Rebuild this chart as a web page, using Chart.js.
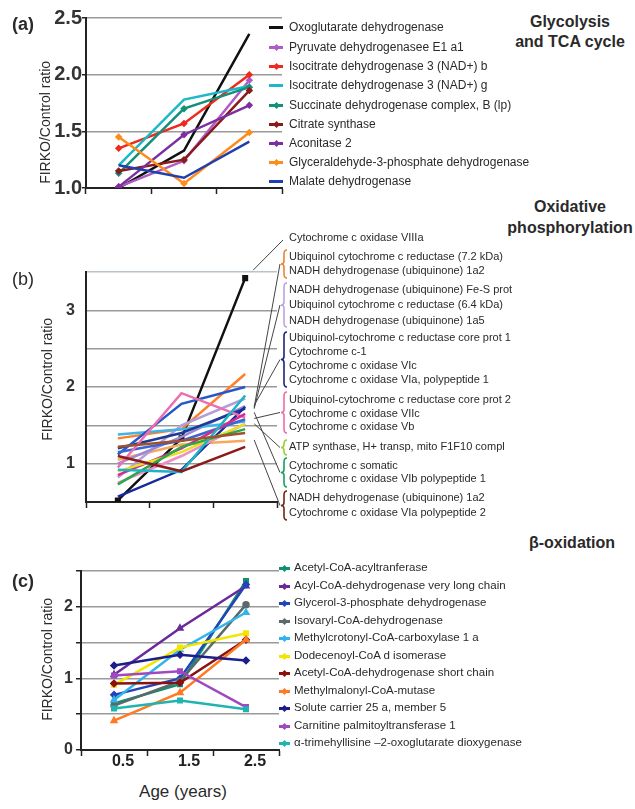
<!DOCTYPE html>
<html>
<head>
<meta charset="utf-8">
<script src="https://cdn.jsdelivr.net/npm/chart.js@4.4.1/dist/chart.umd.min.js"></script>
<style>
  body { margin: 0; background: #fff; }
  #page { position: relative; width: 635px; height: 809px; overflow: hidden; font-family: "Liberation Sans", Arial, sans-serif; color: #2a2a2a; }
  canvas { position: absolute; left: 0; }
  .t { position: absolute; white-space: nowrap; }
</style>
</head>
<body>
<div id="page">
  <canvas id="chartA" width="290" height="200" style="top:0px"></canvas>
  <canvas id="chartB" width="300" height="295" style="top:230px"></canvas>
  <canvas id="chartC" width="290" height="240" style="top:540px"></canvas>
</div>
<script>
// ---------------- data ----------------
const ages = ['0.5', '1.5', '2.5'];

// (a) Glycolysis and TCA cycle
const tcaNames = [
  'Oxoglutarate dehydrogenase',
  'Pyruvate dehydrogenasee E1 a1',
  'Isocitrate dehydrogenase 3 (NAD+) b',
  'Isocitrate dehydrogenase 3 (NAD+) g',
  'Succinate dehydrogenase complex, B (lp)',
  'Citrate synthase',
  'Aconitase 2',
  'Glyceraldehyde-3-phosphate dehydrogenase',
  'Malate dehydrogenase'
];
const tcaValues = [
  [1.00, 1.33, 2.36],
  [1.01, 1.24, 1.95],
  [1.35, 1.57, 2.00],
  [1.20, 1.78, 1.90],
  [1.13, 1.70, 1.89],
  [1.15, 1.25, 1.86],
  [1.01, 1.47, 1.73],
  [1.45, 1.04, 1.49],
  [1.20, 1.09, 1.41]
];
const tcaColors = ['#111111', '#b05cc8', '#ee2a1e', '#1cb8c8', '#14907a', '#8b1a1a', '#7b2fa0', '#ff8c1a', '#2040b0'];
const tcaMarks = [false, true, true, false, true, true, true, true, false];

// (b) Oxidative phosphorylation
const oxNames = [
  'Cytochrome c oxidase VIIIa',
  'Ubiquinol cytochrome c reductase (7.2 kDa)',
  'NADH dehydrogenase (ubiquinone) 1a2',
  'NADH dehydrogenase (ubiquinone) Fe-S prot',
  'Ubiquinol cytochrome c reductase (6.4 kDa)',
  'NADH dehydrogenase (ubiquinone) 1a5',
  'Ubiquinol-cytochrome c reductase core prot 1',
  'Cytochrome c-1',
  'Cytochrome c oxidase VIc',
  'Cytochrome c oxidase VIa, polypeptide 1',
  'Ubiquinol-cytochrome c reductase core prot 2',
  'Cytochrome c oxidase VIIc',
  'Cytochrome c oxidase Vb',
  'ATP synthase, H+ transp, mito F1F10 compl',
  'Cytochrome c somatic',
  'Cytochrome c oxidase VIb polypeptide 1',
  'NADH dehydrogenase (ubiquinone) 1a2',
  'Cytochrome c oxidase VIa polypeptide 2'
];
const oxValues = [
  [0.52, 1.33, 3.42],
  [1.33, 1.45, 2.17],
  [1.05, 1.25, 1.30],
  [0.82, 1.50, 1.85],
  [1.00, 1.35, 1.75],
  [1.38, 1.45, 1.55],
  [1.20, 1.40, 1.72],
  [1.12, 1.78, 2.00],
  [0.57, 0.92, 1.74],
  [1.15, 1.30, 1.58],
  [0.95, 1.92, 1.60],
  [0.85, 1.20, 1.65],
  [0.75, 1.10, 1.52],
  [0.90, 1.15, 1.52],
  [0.73, 1.22, 1.45],
  [0.92, 0.89, 1.89],
  [1.10, 0.90, 1.22],
  [1.22, 1.30, 1.40]
];
const oxColors = ['#111111', '#ff7f27', '#f7a860', '#b39ddb', '#9b88d8', '#40b4e8', '#1f3a93', '#2258cc', '#1a2a9e', '#3a66d4',
  '#ee6fb0', '#d0308c', '#f08cc8', '#e8e020', '#2aa84a', '#1cb4c4', '#8b1a1a', '#a0522d'];

// (c) beta-oxidation
const betaNames = [
  'Acetyl-CoA-acyltranferase',
  'Acyl-CoA-dehydrogenase very long chain',
  'Glycerol-3-phosphate dehydrogenase',
  'Isovaryl-CoA-dehydrogenase',
  'Methylcrotonyl-CoA-carboxylase 1 a',
  'Dodecenoyl-CoA d isomerase',
  'Acetyl-CoA-dehydrogenase short chain',
  'Methylmalonyl-CoA-mutase',
  'Solute carrier 25 a, member 5',
  'Carnitine palmitoyltransferase 1',
  '\u03b1-trimehyllisine \u20132-oxoglutarate dioxygenase'
];
const betaValues = [
  [0.65, 0.92, 2.36],
  [1.05, 1.70, 2.29],
  [0.77, 1.00, 2.31],
  [0.62, 0.96, 2.03],
  [0.70, 1.40, 1.92],
  [0.91, 1.43, 1.63],
  [0.93, 0.94, 1.54],
  [0.41, 0.80, 1.54],
  [1.18, 1.33, 1.25],
  [1.04, 1.10, 0.60],
  [0.58, 0.69, 0.57]
];
const betaColors = ['#119070', '#6a2a9a', '#2244bb', '#5a6a6a', '#30b4ea', '#f2e600', '#8b1010', '#ff7a22', '#1c1f8a', '#a048c0', '#20b4b0'];
const betaPoints = ['rect', 'triangle', 'rectRot', 'circle', 'triangle', 'rect', 'rectRot', 'triangle', 'rectRot', 'rect', 'rect'];

// ---------------- layout (panel b legend / brackets) ----------------
const oxLabelY = [238, 257, 271, 290, 305, 321, 338, 352, 366, 380, 400, 414, 427, 447, 466, 479, 498, 513];
const oxGroups = [
  { series: [1, 2], color: '#f08030', top: 250, bottom: 278 },
  { series: [3, 4, 5], color: '#b8a4e0', top: 283, bottom: 327 },
  { series: [6, 7, 8, 9], color: '#1a237e', top: 332, bottom: 387 },
  { series: [10, 11, 12], color: '#f06aa8', top: 392, bottom: 433 },
  { series: [13], color: '#9acd32', top: 440, bottom: 455 },
  { series: [14, 15], color: '#14a060', top: 458, bottom: 487 },
  { series: [16, 17], color: '#6b2a10', top: 491, bottom: 520 }
];

Chart.defaults.font.family = '"Liberation Sans", Arial, sans-serif';
Chart.defaults.color = '#2a2a2a';

const page = document.getElementById('page');

function addText(txt, x, yc, size, extra) {
  const d = document.createElement('div');
  d.className = 't';
  d.textContent = txt;
  d.style.left = x + 'px';
  d.style.top = (yc - size * 0.6) + 'px';
  d.style.fontSize = size + 'px';
  d.style.lineHeight = (size * 1.2) + 'px';
  if (extra) Object.assign(d.style, extra);
  page.appendChild(d);
  return d;
}

function addCentered(txt, cx, yc, size, extra) {
  return addText(txt, cx - 100, yc, size, Object.assign({ width: '200px', textAlign: 'center' }, extra || {}));
}

function addYTitle(cx, cy) {
  const d = addText('FIRKO/Control ratio', cx - 100, cy, 14, { width: '200px', textAlign: 'center', transform: 'rotate(-90deg)' });
  return d;
}

function addMarker(x, yc, w, color, withPoint) {
  const l = document.createElement('div');
  l.style.cssText = `position:absolute;left:${x}px;top:${yc - 1.5}px;width:${w}px;height:3px;background:${color};`;
  page.appendChild(l);
  if (withPoint) {
    const p = document.createElement('div');
    p.style.cssText = `position:absolute;left:${x + w / 2 - 2.5}px;top:${yc - 2.5}px;width:5px;height:5px;background:${color};transform:rotate(45deg);`;
    page.appendChild(p);
  }
}

function fixedAxis(size, dim) {
  return function (scale) { scale[dim] = size; };
}

function xAxis(height, showLabels) {
  return {
    type: 'category',
    offset: true,
    afterFit: fixedAxis(height, 'height'),
    border: { color: '#222', width: 2 },
    grid: { offset: true, drawOnChartArea: false, drawTicks: true, tickLength: 6, tickColor: '#222', tickWidth: 1.5 },
    ticks: {
      display: showLabels,
      padding: -4,
      labelOffset: 9,
      maxRotation: 0,
      autoSkip: false,
      color: '#222',
      font: { size: 16, weight: 'bold' }
    }
  };
}

function lineSets(values, colors, styleFn) {
  return values.map((v, i) => Object.assign({
    label: 's' + i,
    data: v,
    borderColor: colors[i],
    backgroundColor: colors[i],
    borderWidth: 2.5,
    tension: 0,
    pointRadius: 0
  }, styleFn ? styleFn(i) : {}));
}

const common = {
  responsive: false,
  animation: false,
  events: [],
  plugins: { legend: { display: false }, tooltip: { enabled: false } }
};

// ---------------- (a) ----------------
new Chart(document.getElementById('chartA'), {
  type: 'line',
  data: {
    labels: ages,
    datasets: lineSets(tcaValues, tcaColors, i => ({ pointRadius: tcaMarks[i] ? 2 : 0, pointStyle: 'rectRot' })).reverse()
  },
  options: Object.assign({}, common, {
    layout: { padding: { top: 18, right: 8, left: 0, bottom: 0 } },
    scales: {
      x: xAxis(11, false),
      y: {
        min: 1, max: 2.5,
        afterFit: fixedAxis(86, 'width'),
        border: { color: '#222', width: 2 },
        grid: { color: '#999', lineWidth: 1.5, tickLength: 4, tickColor: '#222' },
        ticks: { stepSize: 0.5, padding: 0, color: '#333', font: { size: 20, weight: 'bold' }, callback: v => v.toFixed(1) }
      }
    }
  })
});

// ---------------- (b) ----------------
const bracketPlugin = {
  id: 'brackets',
  afterDraw(chart) {
    const ctx = chart.ctx;
    const xs = chart.scales.x, ys = chart.scales.y;
    const off = 230;
    const xEnd = xs.getPixelForValue(2);
    ctx.save();
    ctx.strokeStyle = '#444';
    ctx.lineWidth = 1;
    // leader to the single top label
    ctx.beginPath();
    ctx.moveTo(xEnd + 8, ys.getPixelForValue(oxValues[0][2]) - 8);
    ctx.lineTo(283, oxLabelY[0] - off + 2);
    ctx.stroke();
    oxGroups.forEach(g => {
      const ends = g.series.map(i => oxValues[i][2]);
      const mean = ends.reduce((a, b) => a + b, 0) / ends.length;
      const mid = (g.top + g.bottom) / 2 - off;
      ctx.strokeStyle = '#444';
      ctx.lineWidth = 1;
      ctx.beginPath();
      ctx.moveTo(xEnd + 9, ys.getPixelForValue(mean));
      ctx.lineTo(280, mid);
      ctx.stroke();
      // curly brace
      const x = 284, y1 = g.top - off, y2 = g.bottom - off;
      ctx.strokeStyle = g.color;
      ctx.lineWidth = 1.6;
      ctx.beginPath();
      ctx.moveTo(x + 3, y1);
      ctx.quadraticCurveTo(x, y1, x, y1 + 4);
      ctx.lineTo(x, mid - 3);
      ctx.quadraticCurveTo(x, mid, x - 3, mid);
      ctx.quadraticCurveTo(x, mid, x, mid + 3);
      ctx.lineTo(x, y2 - 4);
      ctx.quadraticCurveTo(x, y2, x + 3, y2);
      ctx.stroke();
    });
    ctx.restore();
  }
};

new Chart(document.getElementById('chartB'), {
  type: 'line',
  data: {
    labels: ages,
    datasets: lineSets(oxValues, oxColors, i => i === 0 ? { pointRadius: 2.5, pointStyle: 'rect', borderWidth: 2.5 } : {}).reverse()
  },
  options: Object.assign({}, common, {
    layout: { padding: { top: 42, right: 23, left: 0, bottom: 0 } },
    scales: {
      x: xAxis(23, false),
      y: {
        min: 0.5, max: 3.5,
        afterFit: fixedAxis(86, 'width'),
        border: { color: '#222', width: 2 },
        grid: { color: ctx => ctx.tick && ctx.tick.value === 3.5 ? '#b8c4cc' : '#999', lineWidth: 1.5, drawTicks: false },
        ticks: { stepSize: 0.5, padding: 11, color: '#333', font: { size: 16, weight: 'bold' }, callback: v => Number.isInteger(v) ? v : '' }
      }
    }
  }),
  plugins: [bracketPlugin]
});

// ---------------- (c) ----------------
new Chart(document.getElementById('chartC'), {
  type: 'line',
  data: {
    labels: ages,
    datasets: lineSets(betaValues, betaColors, i => ({ pointRadius: 2.5, pointStyle: betaPoints[i] })).reverse()
  },
  options: Object.assign({}, common, {
    layout: { padding: { top: 31, right: 11, left: 0, bottom: 0 } },
    scales: {
      x: xAxis(30, true),
      y: {
        min: 0, max: 2.5,
        afterFit: fixedAxis(81, 'width'),
        border: { color: '#222', width: 2 },
        grid: { color: '#999', lineWidth: 1.5, tickLength: 5, tickColor: '#222' },
        ticks: { stepSize: 0.5, padding: 3, color: '#333', font: { size: 16, weight: 'bold' }, callback: v => Number.isInteger(v) ? v : '' }
      }
    }
  })
});

// ---------------- text: labels, titles, legends ----------------
addText('(a)', 12, 25, 18, { fontWeight: 'bold' });
addText('(b)', 12, 280, 18);
addText('(c)', 12, 582, 18, { fontWeight: 'bold' });

addYTitle(45, 122);
addYTitle(47, 379);
addYTitle(47, 659);

addCentered('Glycolysis', 570, 22, 16, { fontWeight: 'bold' });
addCentered('and TCA cycle', 570, 42, 16, { fontWeight: 'bold' });
addCentered('Oxidative', 570, 207, 16, { fontWeight: 'bold' });
addCentered('phosphorylation', 570, 228, 16, { fontWeight: 'bold' });
addCentered('\u03b2-oxidation', 572, 543, 16, { fontWeight: 'bold' });

addCentered('Age (years)', 183, 792, 17);

const tcaLegendY = [27, 47, 66, 85, 105, 124, 143, 162, 181];
tcaNames.forEach((n, i) => {
  addMarker(269, tcaLegendY[i], 14, tcaColors[i], tcaMarks[i]);
  addText(n, 289, tcaLegendY[i], 12);
});

oxNames.forEach((n, i) => addText(n, 289, oxLabelY[i], 11));

const betaLegendY = [568, 586, 603, 621, 638, 656, 673, 691, 708, 726, 743];
betaNames.forEach((n, i) => {
  addMarker(279, betaLegendY[i], 11, betaColors[i], true);
  addText(n, 294, betaLegendY[i], 11.5);
});
</script>
</body>
</html>
